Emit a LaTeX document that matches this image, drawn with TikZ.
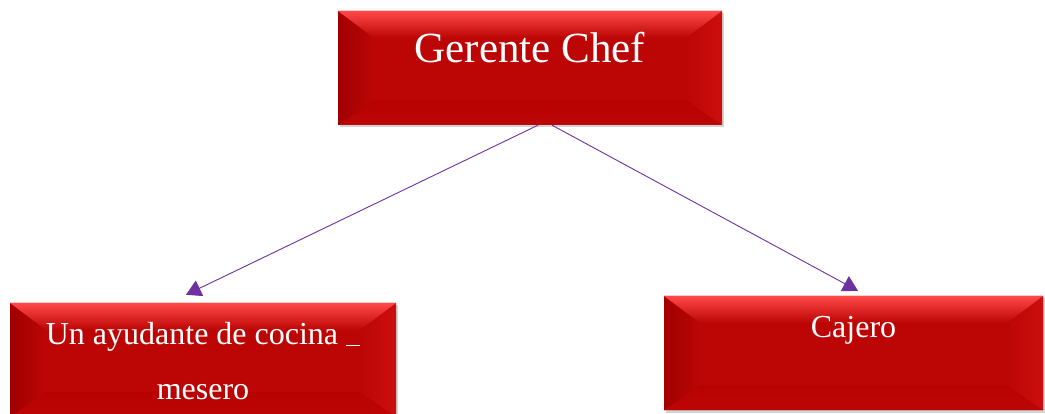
\documentclass[tikz,border=0pt]{standalone}
\usepackage{fontspec}
\setmainfont{Liberation Serif}
\usetikzlibrary{arrows.meta,calc,shadows}
\definecolor{boxred}{RGB}{188,6,6}
\definecolor{toplight}{RGB}{255,72,72}
\definecolor{sidedark}{RGB}{160,0,0}
\definecolor{sidelight}{RGB}{204,14,14}
\definecolor{botdark}{RGB}{184,2,2}
\definecolor{linepurple}{RGB}{112,48,160}
\tikzset{
  bevelbox/.style={rectangle, inner sep=0pt, fill=boxred, minimum height=114pt,
    drop shadow={shadow xshift=2pt, shadow yshift=-2.5pt, opacity=0.35},
    path picture={
      \coordinate (nw) at (path picture bounding box.north west);
      \coordinate (ne) at (path picture bounding box.north east);
      \coordinate (sw) at (path picture bounding box.south west);
      \coordinate (se) at (path picture bounding box.south east);
      \fill[bottom color=boxred, top color=botdark] (sw) -- (se) -- ([shift={(-36pt,25pt)}]se) -- ([shift={(36pt,25pt)}]sw) -- cycle;
      \fill[left color=sidedark, right color=boxred] (nw) -- ([shift={(36pt,-27pt)}]nw) -- ([shift={(36pt,25pt)}]sw) -- (sw) -- cycle;
      \fill[right color=sidelight, left color=boxred] (ne) -- ([shift={(-36pt,-27pt)}]ne) -- ([shift={(-36pt,25pt)}]se) -- (se) -- cycle;
      \fill[top color=toplight, bottom color=boxred] (nw) -- (ne) -- ([shift={(-36pt,-27pt)}]ne) -- ([shift={(36pt,-27pt)}]nw) -- cycle;
    }},
  boxtext/.style={text=white, anchor=base, inner sep=0pt},
  conn/.style={draw=linepurple, line width=0.9pt, -{Triangle[width=17pt,length=15pt]}}
}
\begin{document}
\begin{tikzpicture}
\useasboundingbox (0,0) rectangle (1045pt,-414pt);
\node[bevelbox, minimum width=384pt] (gerente) at (530pt,-68pt) {};
\node[bevelbox, minimum width=386pt] (ayud) at (203pt,-360pt) {};
\node[bevelbox, minimum width=379pt] (cajero) at (853.5pt,-353pt) {};
\node[boxtext, font=\fontsize{43}{43}\selectfont] (gtext) at ($(gerente.north)+(0,-52pt)$) {Gerente Chef};
\node[boxtext, font=\fontsize{32}{32}\selectfont] (atext1) at ($(ayud.north)+(0,-42pt)$) {Un ayudante de cocina \rule[-1pt]{14pt}{1.3pt}};
\node[boxtext, font=\fontsize{32}{32}\selectfont] (atext2) at ($(ayud.north)+(0,-97pt)$) {mesero};
\node[boxtext, font=\fontsize{32}{32}\selectfont] (ctext) at ($(cajero.north)+(0,-42pt)$) {Cajero};
\draw[conn] ([xshift=8pt]gerente.south) -- ([shift={(-17pt,8pt)}]ayud.north);
\draw[conn] ([xshift=22pt]gerente.south) -- ([shift={(4.5pt,5pt)}]cajero.north);
\end{tikzpicture}
\end{document}
